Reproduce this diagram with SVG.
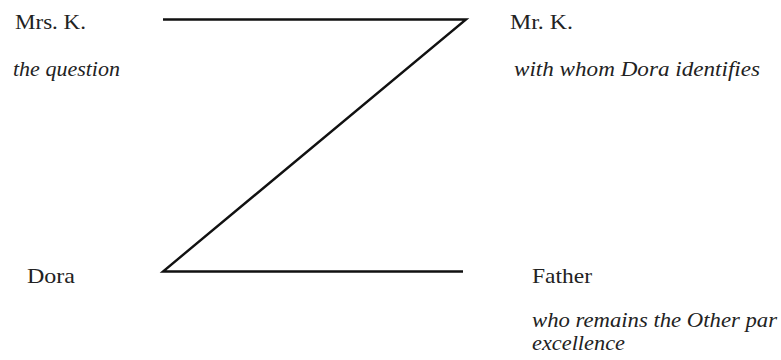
<svg xmlns="http://www.w3.org/2000/svg" width="781" height="360" viewBox="0 0 781 360">
<style>
text{font-family:"Liberation Serif","DejaVu Serif",serif;fill:#222;font-size:21px}
.it{font-style:italic}
.edge{stroke:#111;stroke-width:2.4;fill:none;stroke-linecap:butt;stroke-linejoin:miter}
</style>
<rect width="781" height="360" fill="#fff"/>
<g id="connectors">
<polyline class="edge" points="163,19.5 466,19.5 163,271.5 463,271.5"/>
</g>
<g id="node-mrs-k">
<text x="15" y="29" textLength="71" lengthAdjust="spacingAndGlyphs">Mrs. K.</text>
<text class="it" x="13" y="76" textLength="107" lengthAdjust="spacingAndGlyphs">the question</text>
</g>
<g id="node-mr-k">
<text x="510" y="29" textLength="63" lengthAdjust="spacingAndGlyphs">Mr. K.</text>
<text class="it" x="514" y="76" textLength="246" lengthAdjust="spacingAndGlyphs">with whom Dora identifies</text>
</g>
<g id="node-dora">
<text x="27" y="283" textLength="48" lengthAdjust="spacingAndGlyphs">Dora</text>
</g>
<g id="node-father">
<text x="532" y="283" textLength="60" lengthAdjust="spacingAndGlyphs">Father</text>
<text class="it" x="532" y="327" textLength="245" lengthAdjust="spacingAndGlyphs">who remains the Other par</text>
<text class="it" x="532" y="350" textLength="93" lengthAdjust="spacingAndGlyphs">excellence</text>
</g>
</svg>
